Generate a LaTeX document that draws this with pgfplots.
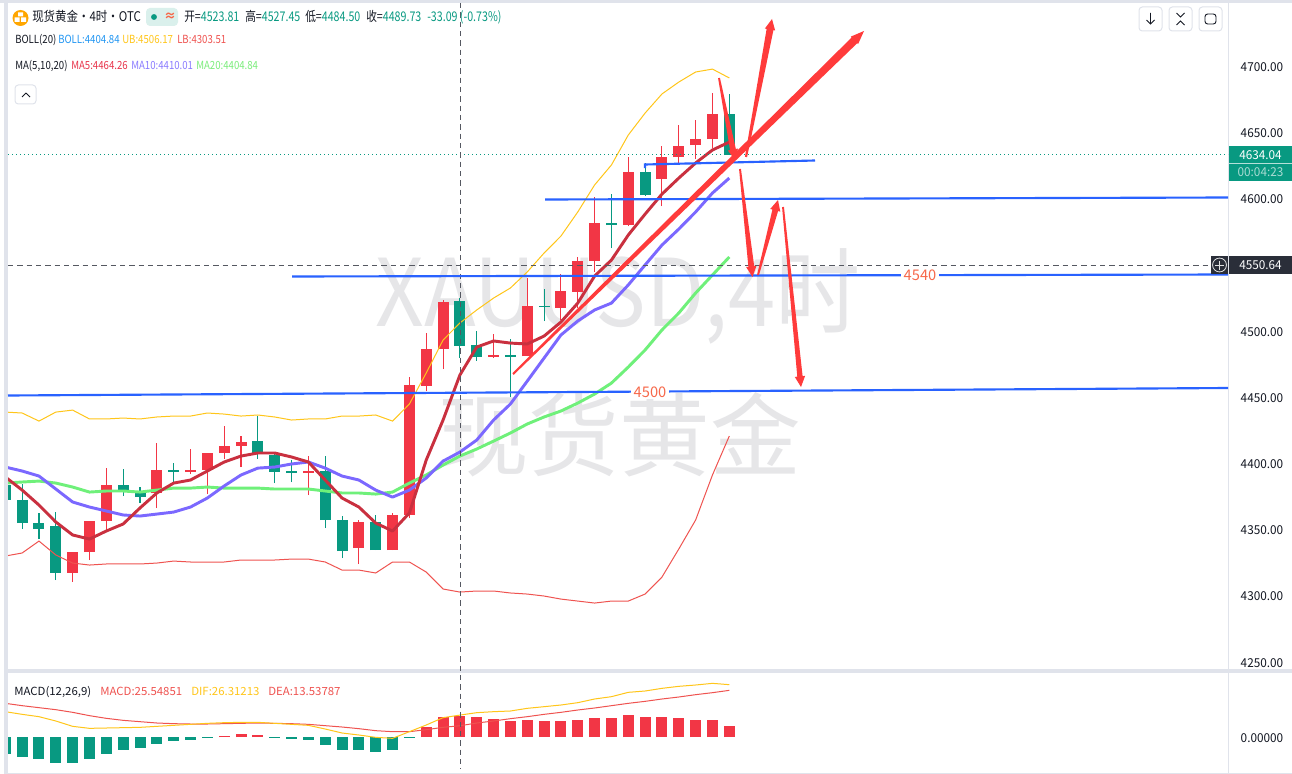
\documentclass[border=0pt]{standalone}
\usepackage{fontspec}
\usepackage{pgfplots}
\usepackage{pgfplotstable}
\pgfplotsset{compat=1.18}
\usetikzlibrary{calc}
\setmainfont{Noto Sans CJK SC}
\newfontfamily\ui[FakeStretch=0.86]{Noto Sans CJK SC}
\newfontfamily\uin[FakeStretch=0.80]{Noto Sans CJK SC}
\newfontfamily\uiw[FakeStretch=1.02]{Noto Sans CJK SC}
\newfontfamily\uit[FakeStretch=0.96]{Noto Sans CJK SC}
\newfontfamily\wmfont[FakeStretch=0.91]{Noto Sans CJK SC}

\definecolor{up}{HTML}{F23645}
\definecolor{down}{HTML}{089981}
\definecolor{maf}{HTML}{C9303F}
\definecolor{mat}{HTML}{7B68FF}
\definecolor{mag}{HTML}{6FF07A}
\definecolor{ubc}{HTML}{FFC61A}
\definecolor{lbc}{HTML}{EF5350}
\definecolor{band}{HTML}{E0E3EB}
\definecolor{trend}{HTML}{2962FF}
\definecolor{arrowred}{HTML}{FF3B3B}
\definecolor{wm}{HTML}{E6E6E8}
\definecolor{ink}{HTML}{131722}
\definecolor{bollb}{HTML}{2196F3}
\definecolor{ma5t}{HTML}{E8334A}
\definecolor{ma10t}{HTML}{8A7BFF}
\definecolor{ma20t}{HTML}{7BED7B}
\definecolor{lvl}{HTML}{F7684A}
\definecolor{dark}{HTML}{2A2E39}

% i low bot top high
\pgfplotstableread{
i low bot top high
4 4310.4 4317.2 4333.0 4333.0
5 4327.0 4333.0 4356.4 4356.4
6 4349.6 4356.4 4383.6 4396.4
9 4366.2 4377.6 4395.0 4415.3
11 4391.9 4393.4 4395.0 4410.8
12 4376.8 4395.0 4407.8 4407.8
13 4403.3 4407.8 4413.1 4428.2
14 4397.2 4413.1 4416.1 4420.6
18 4376.0 4392.7 4394.2 4405.5
21 4323.9 4336.0 4355.7 4357.2
23 4334.5 4334.5 4361.0 4362.5
24 4358.7 4361.0 4459.1 4465.2
25 4454.6 4458.4 4486.3 4498.4
26 4471.2 4486.3 4521.8 4523.3
29 4479.5 4480.3 4481.8 4497.6
31 4481.0 4481.0 4518.8 4539.9
33 4508.2 4517.3 4530.1 4543.0
34 4517.3 4529.4 4552.8 4555.8
35 4544.4 4552.8 4581.5 4601.1
37 4579.2 4579.9 4620.0 4631.3
39 4594.3 4614.7 4631.3 4639.6
40 4626.8 4631.3 4639.6 4655.4
41 4629.8 4640.3 4644.9 4659.2
42 4638.1 4644.9 4663.7 4679.6
}\upbars
\pgfplotstableread{
i low bot top high
0 4372.3 4372.3 4383.6 4387.0
1 4350.4 4354.9 4372.3 4384.4
2 4342.8 4350.4 4354.9 4362.5
3 4311.9 4317.2 4352.7 4363.2
7 4375.3 4379.1 4383.6 4395.7
8 4370.0 4374.5 4377.6 4382.1
10 4385.1 4393.6 4395.0 4400.2
15 4403.3 4407.8 4416.8 4435.7
16 4385.1 4393.4 4406.3 4407.8
17 4385.9 4392.7 4393.9 4402.5
19 4351.1 4357.2 4394.2 4405.5
20 4328.5 4333.8 4357.2 4360.2
22 4334.5 4334.5 4355.7 4361.0
27 4479.5 4488.6 4522.6 4524.8
28 4477.3 4480.3 4489.3 4499.9
30 4450.0 4480.6 4481.8 4493.8
32 4507.4 4518.0 4519.0 4531.6
36 4562.6 4579.9 4581.5 4603.3
38 4601.8 4602.6 4620.0 4626.8
43 4632.8 4632.8 4663.7 4678.9
}\downbars

\pgfplotstableread{
i ma5 ma10 ma20 ub lb
0 4389.7 4397.2 4385.1 4438.7 4330.0
1 4379.8 4394.2 4385.9 4438.0 4332.3
2 4368.5 4390.4 4386.6 4431.9 4341.3
3 4355.7 4380.6 4385.1 4438.7 4330.8
4 4345.9 4370.8 4382.1 4440.2 4324.7
5 4342.8 4367.0 4378.3 4433.5 4323.2
6 4348.9 4364.0 4379.1 4433.5 4324.0
7 4354.2 4361.0 4379.1 4434.2 4324.0
8 4366.3 4360.2 4378.3 4433.5 4324.0
9 4377.6 4361.7 4379.8 4435.0 4324.7
10 4385.1 4363.2 4381.3 4435.7 4326.2
11 4387.4 4367.0 4381.3 4435.7 4325.5
12 4394.2 4373.8 4382.1 4438.0 4325.5
13 4401.0 4382.9 4381.3 4437.2 4325.5
14 4405.5 4391.2 4381.3 4435.7 4327.0
15 4407.8 4396.4 4381.3 4436.5 4327.0
16 4407.8 4397.2 4380.6 4435.0 4327.0
17 4404.8 4399.5 4380.6 4432.7 4327.7
18 4401.0 4401.0 4380.6 4433.5 4327.7
19 4387.4 4396.4 4379.1 4433.5 4325.5
20 4373.8 4390.4 4377.6 4435.7 4319.4
21 4367.0 4387.4 4377.6 4435.7 4319.4
22 4354.9 4379.8 4376.8 4436.5 4317.2
23 4348.9 4374.5 4378.3 4431.9 4325.5
24 4362.5 4379.8 4385.1 4444.8 4325.5
25 4402.5 4388.9 4391.2 4468.2 4317.9
26 4432.7 4401.7 4398.7 4493.1 4305.1
27 4466.7 4408.5 4405.5 4506.0 4302.8
28 4487.8 4417.6 4410.8 4515.8 4303.6
29 4492.4 4432.7 4416.8 4524.8 4303.6
30 4490.8 4444.8 4422.9 4532.4 4302.1
31 4490.1 4462.1 4429.7 4544.5 4301.3
32 4496.1 4479.5 4435.0 4558.8 4299.8
33 4506.7 4496.9 4439.5 4571.6 4297.5
34 4521.0 4507.5 4445.5 4589.8 4296.0
35 4541.4 4515.8 4452.3 4610.2 4294.5
36 4553.5 4521.0 4460.6 4625.3 4296.0
37 4572.4 4534.7 4472.7 4647.9 4296.0
38 4588.2 4549.8 4485.6 4664.5 4301.3
39 4603.3 4564.8 4500.7 4678.9 4314.1
40 4615.4 4576.9 4513.5 4687.9 4335.3
41 4626.8 4589.8 4528.6 4695.5 4357.2
42 4636.6 4604.1 4542.2 4697.7 4391.2
43 4642.6 4615.4 4555.8 4691.0 4420.6
}\lines

\pgfplotstableread{
i macd dif dea
0 -20.0 30.4 40.4
1 -24.0 27.2 37.6
2 -26.4 24.4 35.2
3 -31.2 19.2 32.8
4 -31.2 12.8 29.6
5 -26.4 10.4 25.6
6 -20.4 10.8 22.4
7 -15.6 11.2 20.0
8 -13.2 11.6 18.4
9 -8.4 12.8 16.8
10 -4.8 14.0 16.0
11 -3.6 15.2 15.6
12 -0.8 16.4 15.6
13 1.2 17.2 16.0
14 3.6 17.6 16.4
15 2.4 17.6 16.8
16 -0.8 16.4 16.4
17 -2.4 15.2 16.0
18 -3.6 14.0 15.2
19 -9.6 9.6 13.6
20 -15.6 4.8 12.0
21 -15.6 2.4 10.0
22 -18.0 -0.4 7.6
23 -15.6 -1.6 6.4
24 -0.8 6.4 6.4
25 12.0 14.4 8.8
26 24.0 23.2 11.6
27 25.5 26.3 13.5
28 24.0 29.2 16.8
29 21.6 30.4 19.2
30 19.2 31.2 22.0
31 20.4 34.4 24.4
32 19.2 36.4 27.2
33 19.2 38.4 29.6
34 20.4 41.2 32.4
35 22.8 45.6 34.8
36 22.8 48.4 37.6
37 26.4 53.6 40.4
38 24.0 55.2 42.8
39 24.0 58.4 45.6
40 22.8 60.8 48.0
41 20.4 62.4 50.8
42 20.4 64.4 53.2
43 13.2 62.8 56.0
}\macdtab

% shaft tapers from tail to head, all widths are half widths in pt
\newcommand{\taper}[7]{%
  \path (#1,#2) coordinate (a) (#3,#4) coordinate (b);
  \path ($(b)!#7!(a)$) coordinate (c);
  \fill[arrowred] ($(a)!#5!90:(b)$) -- ($(c)!#6!90:(b)$) -- ($(c)!3.9pt!90:(b)$) -- (b)
    -- ($(c)!3.9pt!-90:(b)$) -- ($(c)!#6!-90:(b)$) -- ($(a)!#5!-90:(b)$) -- cycle;
}
\newcommand{\lbl}[4]{\node[anchor=base west,inner sep=0pt,text=#3] at (#1,#2) {#4};}

\pgfplotsset{
  chartaxis/.style={
    anchor=south west, scale only axis, width=915pt,
    xmin=0.16, xmax=72.62,
    axis x line=none, axis y line*=right,
    axis line style={draw=band,-},
    major tick length=0pt,
    yticklabel style={font=\uit\fontsize{9.2}{10}\selectfont, text=ink, xshift=6pt, yshift=-.6pt},
    /pgf/number format/assume math mode=true,
    /pgf/number format/fixed, /pgf/number format/fixed zerofill,
    /pgf/number format/1000 sep={},
  },
  candle/.style 2 args={draw=none, mark=none, forget plot,
    error bars/.cd, y dir=plus, y explicit, error mark=none,
    error bar style={line width=#2, color=#1, line cap=butt}},
}
\tikzset{px/.style={x=.75pt,y=-.75pt}}

\begin{document}
\begin{tikzpicture}
\useasboundingbox (0,0) rectangle (969pt,-580.5pt);
\begin{scope}[px]
\fill[white] (0,0) rectangle (1292,774);
% panel frame
\fill[band] (0,0) rectangle (1292,3);
\fill[band] (4,0) rectangle (8,774);
\fill[band] (4,669) rectangle (1292,673);
\fill[band] (4,773) rectangle (1292,774);

% watermark
\node[anchor=base west,inner sep=0pt,text=wm,font=\wmfont\fontsize{70}{70}\selectfont] at (375,326) {XAUUSD,4时};
\node[anchor=base west,inner sep=0pt,text=wm,font=\fontsize{68}{68}\selectfont] at (438,469) {现货黄金};
\end{scope}

\begin{axis}[chartaxis, at={(6pt,-501.75pt)}, height=499.5pt, ymin=4244.7, ymax=4747.6,
    ytick={4250,4300,...,4700},
    /pgf/number format/precision=2]
  % wicks and bodies
  \addplot[candle={up}{.8pt}] table[x=i,y=low,y error plus expr=\thisrow{high}-\thisrow{low}] {\upbars};
  \addplot[candle={up}{8.25pt}] table[x=i,y=bot,y error plus expr=\thisrow{top}-\thisrow{bot}] {\upbars};
  \addplot[candle={down}{.8pt}] table[x=i,y=low,y error plus expr=\thisrow{high}-\thisrow{low}] {\downbars};
  \addplot[candle={down}{8.25pt}] table[x=i,y=bot,y error plus expr=\thisrow{top}-\thisrow{bot}] {\downbars};
  % bollinger
  \addplot[ubc,line width=.75pt,mark=none] table[x=i,y=ub] {\lines};
  \addplot[lbc,line width=.75pt,mark=none] table[x=i,y=lb] {\lines};
  % moving averages
  \addplot[mag,line width=2.2pt,mark=none,line join=round] table[x=i,y=ma20] {\lines};
  \addplot[mat,line width=2.2pt,mark=none,line join=round] table[x=i,y=ma10] {\lines};
  \addplot[maf,line width=2.2pt,mark=none,line join=round] table[x=i,y=ma5] {\lines};
\end{axis}

\begin{axis}[chartaxis, at={(6pt,-579.75pt)}, height=75pt, ymin=-43.2, ymax=76.8,
    ytick={0},
    /pgf/number format/precision=5]
  \addplot[ycomb,up,line width=8.25pt,mark=none,restrict y to domain=0:200] table[x=i,y=macd] {\macdtab};
  \addplot[ycomb,down,line width=8.25pt,mark=none,restrict y to domain=-200:0] table[x=i,y=macd] {\macdtab};
  \addplot[lbc,line width=.75pt,mark=none] table[x=i,y=dea] {\macdtab};
  \addplot[ubc,line width=.75pt,mark=none] table[x=i,y=dif] {\macdtab};
\end{axis}

\begin{scope}[px]
% crosshair and last price line
\draw[down,line width=1pt,dash pattern=on 1pt off 2pt] (8,154.5) -- (1228,154.5);
\draw[dark!80,line width=.75pt,dash pattern=on 4pt off 3pt] (8,265.5) -- (1211,265.5);
\draw[dark!80,line width=.75pt,dash pattern=on 4pt off 3pt] (460.5,3) -- (460.5,769);

% hand drawn levels
\begin{scope}[trend,line width=1.6pt]
  \draw (8,395.5) -- (1228,388);
  \draw (292,276.5) -- (1228,274.5);
  \draw (545,199.5) -- (1228,197.5);
  \draw (645,168) -- (645,164.5) -- (815,160.5);
\end{scope}
\node[fill=white,inner xsep=2pt,inner ysep=1pt,text=lvl,font=\fontsize{11}{11}\selectfont] at (650,392.5) {4500};
\node[fill=white,inner xsep=2pt,inner ysep=1pt,text=lvl,font=\fontsize{11}{11}\selectfont] at (920,275.5) {4540};

% hand drawn arrows
\taper{513}{374}{864}{31}{.8pt}{3pt}{10pt}
\taper{719}{78}{735}{160}{.7pt}{2.2pt}{8pt}
\taper{746}{157}{772}{19}{.8pt}{2.6pt}{8pt}
\taper{740}{169}{752.5}{277}{.7pt}{2.2pt}{8pt}
\taper{758}{275}{778}{200}{.7pt}{2.2pt}{8pt}
\taper{783}{207}{801}{387}{.7pt}{2pt}{8pt}

% right hand price tags
\fill[down] (1229,146) rectangle (1292,181);
\draw[white!70!down,line width=.4pt] (1229,163.5) -- (1292,163.5);
\node[text=white,font=\uit\fontsize{9.2}{10}\selectfont] at (1260.5,155) {4634.04};
\node[text=white!65!down,font=\uit\fontsize{9.2}{10}\selectfont] at (1260.5,172.5) {00:04:23};
\fill[dark] (1229,256) rectangle (1292,274);
\node[text=white,font=\uit\fontsize{9.2}{10}\selectfont] at (1260.5,265) {4550.64};
\fill[dark] (1211,256) rectangle (1228,274);
\draw[white!85!dark,line width=.6pt] (1219.5,265) circle[radius=5.2pt];
\draw[white!85!dark,line width=.6pt] (1215,265) -- (1224,265) (1219.5,260.5) -- (1219.5,269.5);

% toolbar buttons
\begin{scope}[band,line width=.75pt,rounded corners=2.5pt]
  \draw (1139,7) rectangle (1162,31);
  \draw (1169,7) rectangle (1192,31);
  \draw (1199,7) rectangle (1222,31);
  \draw (15,85) rectangle (36,104);
\end{scope}
\begin{scope}[ink,line width=.7pt]
  \draw (1150.5,13) -- (1150.5,24) (1146.5,20) -- (1150.5,24) -- (1154.5,20);
  \draw (1176.5,13) -- (1180.5,17) -- (1184.5,13) (1176.5,25) -- (1180.5,21) -- (1184.5,25);
  \draw[rounded corners=2pt] (1205,14) rectangle (1216,24);
  \draw (26,93) -- (22,97) (26,93) -- (30,97);
\end{scope}

% header
\fill[orange!70!yellow] (20.5,18) circle[radius=6pt];
\fill[white] (18,12.5) rectangle (23,16.5) (14.5,17.5) rectangle (19.5,22) (21,17.5) rectangle (26,22);
\fill[down!15,rounded corners=3pt] (146,8) rectangle (178,26);
\fill[down] (154,17) circle[radius=2.2pt];
\node[text=lvl,font=\bfseries\fontsize{9}{9}\selectfont] at (170,16.5) {≈};

\begin{scope}[font=\ui\fontsize{10}{10}\selectfont]
  \lbl{32}{22}{ink}{现货黄金・4时・OTC}
\end{scope}
\begin{scope}[font=\uin\fontsize{10}{10}\selectfont]
  \lbl{184}{22}{ink}{开=\textcolor{down}{4523.81}}
  \lbl{245}{22}{ink}{高=\textcolor{down}{4527.45}}
  \lbl{305}{22}{ink}{低=\textcolor{down}{4484.50}}
  \lbl{366}{22}{ink}{收=\textcolor{down}{4489.73}}
  \lbl{427}{22}{down}{-33.09 (-0.73\%)}
\end{scope}
\begin{scope}[font=\ui\fontsize{8.4}{10}\selectfont]
  \lbl{15}{43.5}{ink}{BOLL(20)}
  \lbl{58}{43.5}{bollb}{BOLL:4404.84}
  \lbl{122}{43.5}{ubc}{UB:4506.17}
  \lbl{177}{43.5}{lbc}{LB:4303.51}
  \lbl{15}{69.5}{ink}{MA(5,10,20)}
  \lbl{71}{69.5}{ma5t}{MA5:4464.26}
  \lbl{131}{69.5}{ma10t}{MA10:4410.01}
  \lbl{196}{69.5}{ma20t}{MA20:4404.84}
\end{scope}
\begin{scope}[font=\uiw\fontsize{8.4}{10}\selectfont]
  \lbl{14}{695.5}{ink}{MACD(12,26,9)}
  \lbl{100}{695.5}{lbc}{MACD:25.54851}
  \lbl{191}{695.5}{ubc}{DIF:26.31213}
  \lbl{268}{695.5}{lbc}{DEA:13.53787}
\end{scope}
\end{scope}
\end{tikzpicture}
\end{document}
